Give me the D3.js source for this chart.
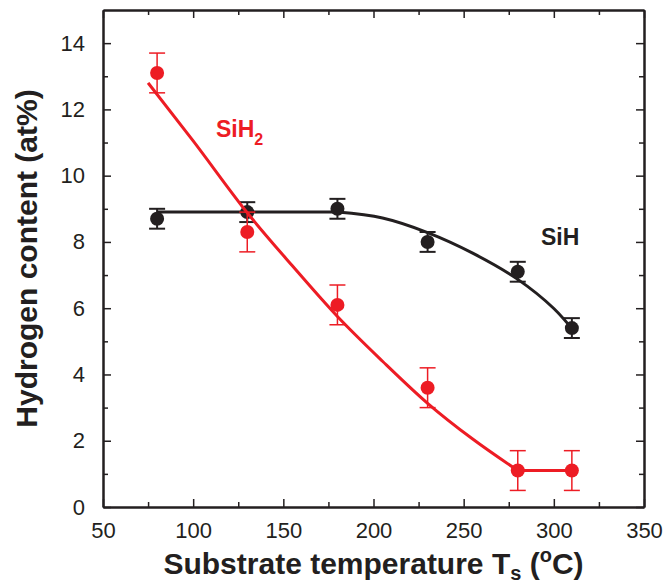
<!DOCTYPE html>
<html>
<head>
<meta charset="utf-8">
<script src="https://cdn.jsdelivr.net/npm/d3@7"></script>
<style>
  body { margin: 0; background: #fff; }
  text { font-family: "Liberation Sans", Arial, sans-serif; fill: #231f20; }
</style>
</head>
<body>
<div id="chart"></div>
<script>
// DATA
const temps = [80, 130, 180, 230, 280, 310];
const sihVals = [8.7, 8.9, 9.0, 8.0, 7.1, 5.4];
const sihErr = [0.3, 0.3, 0.3, 0.3, 0.3, 0.3];
const sih2Vals = [13.1, 8.3, 6.1, 3.6, 1.1, 1.1];
const sih2Err = [0.6, 0.6, 0.6, 0.6, 0.6, 0.6];

// fit curves
const sihFlatX = [80, 180];
const sihFlatY = [8.9, 8.9];
const sihFitX = [180, 205, 230, 255, 280, 300, 312];
const sihFitY = [8.9, 8.72, 8.28, 7.66, 6.87, 5.99, 5.25];
const sih2FitX = [75, 100, 130, 155, 180, 205, 230, 255, 280];
const sih2FitY = [12.8, 11.05, 8.88, 7.28, 5.75, 4.4, 3.13, 2.05, 1.1];
const sih2FlatX = [280, 310];
const sih2FlatY = [1.1, 1.1];

const xTicks = [50, 100, 150, 200, 250, 300, 350];
const yTicks = [0, 2, 4, 6, 8, 10, 12, 14];

const width = 667, height = 585;
const margin = {top: 10, right: 23, bottom: 78, left: 103};
const red = "#ed1c24", dark = "#231f20";

const svg = d3.select("#chart").append("svg")
  .attr("width", width)
  .attr("height", height);

const x = d3.scaleLinear().domain([50, 350]).range([margin.left, width - margin.right]);
const y = d3.scaleLinear().domain([0, 15]).range([height - margin.bottom, margin.top]);

//AXES (ticks inward on all four sides)
const xMinor = d3.range(50, 351, 25).filter(d => d % 50 !== 0);
const yMinor = d3.range(1, 15, 2);

function styleAxis(g) {
  g.select(".domain").attr("stroke", dark).attr("stroke-width", 2);
  g.selectAll(".tick line").attr("stroke", dark).attr("stroke-width", 1.5);
  g.selectAll(".tick text").attr("font-size", "22px").attr("fill", dark)
    .style("font-family", "'Liberation Sans', Arial, sans-serif");
}

// bottom
svg.append("g").attr("transform", `translate(0,${y(0)})`)
  .call(d3.axisBottom(x).tickValues(xTicks).tickSize(-8).tickPadding(15).tickSizeOuter(0))
  .call(styleAxis);
svg.append("g").attr("transform", `translate(0,${y(0)})`)
  .call(d3.axisBottom(x).tickValues(xMinor).tickSize(-5).tickFormat("").tickSizeOuter(0))
  .call(styleAxis);
// top
svg.append("g").attr("transform", `translate(0,${y(15)})`)
  .call(d3.axisTop(x).tickValues(xTicks).tickSize(-8).tickFormat("").tickSizeOuter(0))
  .call(styleAxis);
svg.append("g").attr("transform", `translate(0,${y(15)})`)
  .call(d3.axisTop(x).tickValues(xMinor).tickSize(-5).tickFormat("").tickSizeOuter(0))
  .call(styleAxis);
// left
svg.append("g").attr("transform", `translate(${x(50)},0)`)
  .call(d3.axisLeft(y).tickValues(yTicks).tickSize(-8).tickPadding(18).tickSizeOuter(0))
  .call(styleAxis);
svg.append("g").attr("transform", `translate(${x(50)},0)`)
  .call(d3.axisLeft(y).tickValues(yMinor).tickSize(-5).tickFormat("").tickSizeOuter(0))
  .call(styleAxis);
// right
svg.append("g").attr("transform", `translate(${x(350)},0)`)
  .call(d3.axisRight(y).tickValues(yTicks).tickSize(-8).tickFormat("").tickSizeOuter(0))
  .call(styleAxis);
svg.append("g").attr("transform", `translate(${x(350)},0)`)
  .call(d3.axisRight(y).tickValues(yMinor).tickSize(-5).tickFormat("").tickSizeOuter(0))
  .call(styleAxis);

//SERIES
const monotone = d3.line().x(d => x(d[0])).y(d => y(d[1])).curve(d3.curveMonotoneX);
const smooth = d3.line().x(d => x(d[0])).y(d => y(d[1])).curve(d3.curveCatmullRom.alpha(0.5));
const straight = d3.line().x(d => x(d[0])).y(d => y(d[1]));

function drawSeries(vals, errs, color, errWidth) {
  const pts = temps.map((t, i) => ({t: t, v: vals[i], e: errs[i]}));
  const g = svg.append("g");
  g.selectAll("line.bar").data(pts).join("line")
    .attr("x1", d => x(d.t)).attr("x2", d => x(d.t))
    .attr("y1", d => y(d.v + d.e)).attr("y2", d => y(d.v - d.e))
    .attr("stroke", color).attr("stroke-width", errWidth);
  [1, -1].forEach(s => {
    g.selectAll(null).data(pts).join("line")
      .attr("x1", d => x(d.t) - 8).attr("x2", d => x(d.t) + 8)
      .attr("y1", d => y(d.v + s * d.e)).attr("y2", d => y(d.v + s * d.e))
      .attr("stroke", color).attr("stroke-width", errWidth);
  });
  g.selectAll("circle").data(pts).join("circle")
    .attr("cx", d => x(d.t)).attr("cy", d => y(d.v))
    .attr("r", 7).attr("fill", color);
}

svg.append("path")
  .datum(sihFlatX.map((t, i) => [t, sihFlatY[i]]))
  .attr("d", straight).attr("fill", "none").attr("stroke", dark).attr("stroke-width", 3);
svg.append("path")
  .datum(sihFitX.map((t, i) => [t, sihFitY[i]]))
  .attr("d", smooth).attr("fill", "none").attr("stroke", dark).attr("stroke-width", 3);
drawSeries(sihVals, sihErr, dark, 2);

svg.append("path")
  .datum(sih2FitX.map((t, i) => [t, sih2FitY[i]]))
  .attr("d", monotone).attr("fill", "none").attr("stroke", red).attr("stroke-width", 3);
svg.append("path")
  .datum(sih2FlatX.map((t, i) => [t, sih2FlatY[i]]))
  .attr("d", straight).attr("fill", "none").attr("stroke", red).attr("stroke-width", 3);
drawSeries(sih2Vals, sih2Err, red, 1.5);

//LABELS
const sih2Label = svg.append("text")
  .attr("x", 216).attr("y", 137)
  .attr("font-size", "23px").attr("font-weight", "bold")
  .style("fill", red);
sih2Label.append("tspan").text("SiH");
sih2Label.append("tspan").attr("font-size", "16px").attr("dy", 8).text("2");

svg.append("text")
  .attr("x", 541).attr("y", 245)
  .attr("font-size", "23px").attr("font-weight", "bold")
  .text("SiH");

//AXIS TITLES
const xTitle = svg.append("text")
  .attr("x", (x(50) + x(350)) / 2).attr("y", 574)
  .attr("text-anchor", "middle")
  .attr("font-size", "30px").attr("font-weight", "bold");
xTitle.append("tspan").text("Substrate temperature T");
xTitle.append("tspan").attr("font-size", "20px").attr("dy", 6).text("s");
xTitle.append("tspan").attr("dy", -6).text(" (");
xTitle.append("tspan").attr("font-size", "20px").attr("dy", -12).text("o");
xTitle.append("tspan").attr("dy", 12).text("C)");

svg.append("text")
  .attr("transform", `translate(37,${(y(0) + y(15)) / 2}) rotate(-90)`)
  .attr("text-anchor", "middle")
  .attr("font-size", "30px").attr("font-weight", "bold")
  .text("Hydrogen content (at%)");
</script>
</body>
</html>
